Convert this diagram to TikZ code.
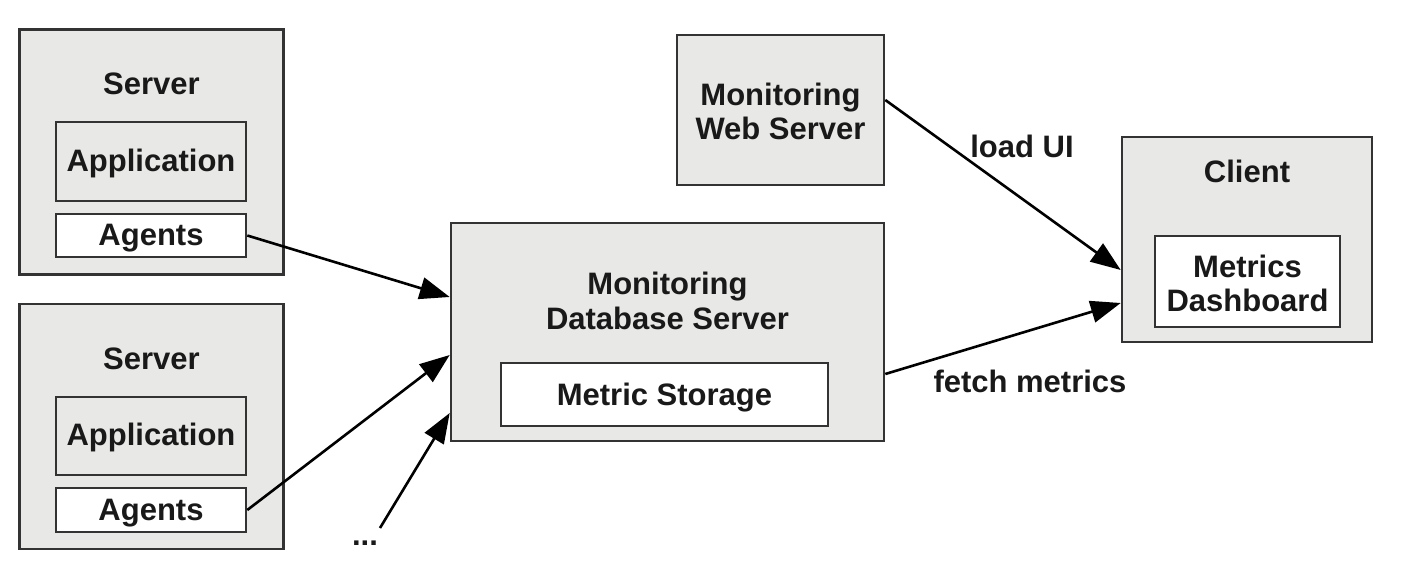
\documentclass[tikz,border=0pt]{standalone}
\usepackage{fontspec}
\setmainfont{Liberation Sans}
\usetikzlibrary{arrows.meta}
\definecolor{boxgray}{HTML}{E8E8E6}
\definecolor{linegray}{HTML}{333333}
\tikzset{
  box/.style={draw=linegray, line width=2.6pt, fill=boxgray, inner sep=0pt},
  wbox/.style={box, fill=white},
  lbl/.style={font=\fontsize{31}{34.5}\selectfont\bfseries, text=black!90, align=center, inner sep=0pt},
  conn/.style={draw=black, line width=2.6pt, -{Triangle[length=30pt,width=22pt]}}
}
\begin{document}
\begin{tikzpicture}[x=1pt,y=-1pt]
\useasboundingbox (0,0) rectangle (1402,578);
% Server 1
\node[box, minimum width=264pt, minimum height=245pt] (s1) at (151.5,152) {};
\node[lbl] (s1t) at (151.5,84) {Server};
\node[box, minimum width=190pt, minimum height=79pt] (app1) at (151,161.5) {};
\node[lbl] (app1t) at (151,163) {Application};
\node[wbox, minimum width=190pt, minimum height=43pt] (ag1) at (151,235.5) {};
\node[lbl] (ag1t) at (151,238.5) {Agents};
% Server 2
\node[box, minimum width=264pt, minimum height=245pt] (s2) at (151.5,426.5) {};
\node[lbl] (s2t) at (151.5,359) {Server};
\node[box, minimum width=190pt, minimum height=78pt] (app2) at (151,436) {};
\node[lbl] (app2t) at (151,437.5) {Application};
\node[wbox, minimum width=190pt, minimum height=44pt] (ag2) at (151,510) {};
\node[lbl] (ag2t) at (151,513) {Agents};
% DB server
\node[box, minimum width=433pt, minimum height=218pt] (db) at (667.5,332) {};
\node[lbl] (dbt) at (667.5,301) {Monitoring\\Database Server};
\node[wbox, minimum width=327pt, minimum height=63pt] (ms) at (664.5,394.5) {};
\node[lbl] (mst) at (664.5,397.5) {Metric Storage};
% Web server
\node[box, minimum width=207pt, minimum height=150pt] (web) at (780.5,110) {};
\node[lbl] (webt) at (780.5,111.5) {Monitoring\\Web Server};
% Client
\node[box, minimum width=250pt, minimum height=205pt] (cl) at (1247,239.5) {};
\node[lbl] (clt) at (1247,171) {Client};
\node[wbox, minimum width=185pt, minimum height=91pt] (dash) at (1247.5,281.5) {};
\node[lbl] (dasht) at (1247.5,283.5) {Metrics\\Dashboard};
% dots
\node[lbl] (dots) at (365,543) {...};
\coordinate (dotsend) at (380,528);
% connectors
\draw[conn] (ag1.east) -- ([yshift=35pt]db.west);
\draw[conn] (ag2.east) -- ([yshift=-23pt]db.west);
\draw[conn] (dotsend) -- ([yshift=-81pt]db.west);
\draw[conn] ([yshift=10pt]web.east) -- ([yshift=-30.5pt]cl.west);
\draw[conn] ([yshift=-42pt]db.east) -- ([yshift=-63.5pt]cl.west);
\node[lbl] (loadui) at (1022,146) {load UI};
\node[lbl] (fetch) at (1030,381) {fetch metrics};
\end{tikzpicture}
\end{document}
